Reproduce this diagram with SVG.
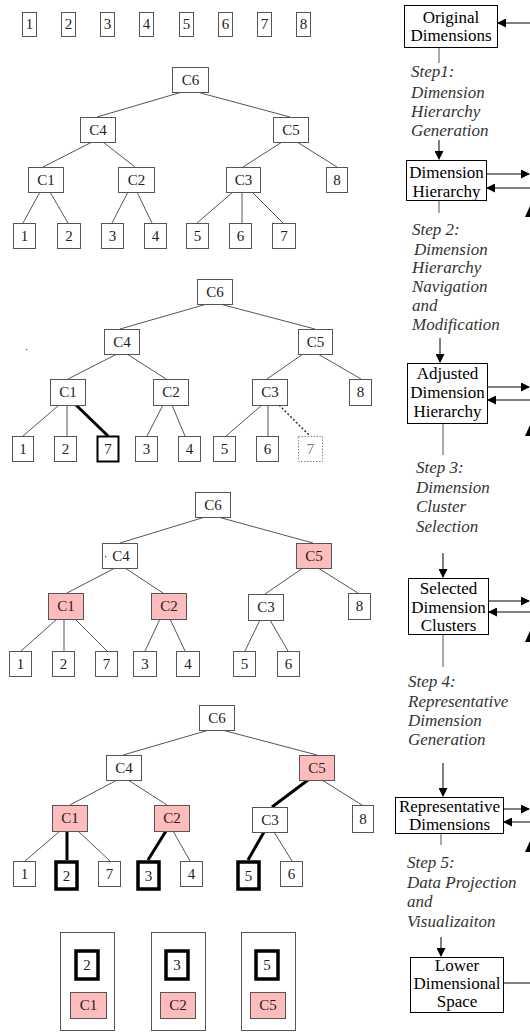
<svg xmlns="http://www.w3.org/2000/svg" width="530" height="1032" viewBox="0 0 530 1032" font-family="'Liberation Serif', 'Times New Roman', serif">
<style>
.n{fill:#fff;stroke:#555;stroke-width:1}
.p{fill:#ffbcbc;stroke:#555;stroke-width:1}
.tk{fill:#fff;stroke:#000;stroke-width:3.5}
.dt{fill:#fff;stroke:#888;stroke-width:1;stroke-dasharray:1.5 1.5}
.t{font-family:'Liberation Serif','Times New Roman',serif;font-size:15px;fill:#222;text-anchor:middle}
.e{stroke:#555;stroke-width:1;fill:none}
.eb{stroke:#000;stroke-width:3;fill:none}
.ed{stroke:#333;stroke-width:1.5;stroke-dasharray:2 2;fill:none}
.b{fill:#fff;stroke:#000;stroke-width:1}
.bt{font-family:'Liberation Serif','Times New Roman',serif;font-size:17px;fill:#000;text-anchor:middle}
.s{font-family:'Liberation Serif','Times New Roman',serif;font-size:17px;font-style:italic;fill:#333}
.f{stroke:#000;stroke-width:1;fill:none}
.fg{stroke:#555;stroke-width:1;fill:none}
.ah{fill:#000}
</style>
<defs>
<marker id="arr" markerWidth="9" markerHeight="9" refX="8" refY="4.5" orient="auto" markerUnits="userSpaceOnUse">
<path d="M0,0 L9,4.5 L0,9 Z" fill="#000"/>
</marker>
</defs>

<g id="top-row">
<g id="r1"><rect class="n" x="22.5" y="12.5" width="14" height="24"/><text class="t" x="29.5" y="29">1</text></g>
<g id="r2"><rect class="n" x="61.5" y="12.5" width="14" height="24"/><text class="t" x="68.5" y="29">2</text></g>
<g id="r3"><rect class="n" x="100.5" y="12.5" width="14" height="24"/><text class="t" x="107.5" y="29">3</text></g>
<g id="r4"><rect class="n" x="139.5" y="12.5" width="14" height="24"/><text class="t" x="146.5" y="29">4</text></g>
<g id="r5"><rect class="n" x="179.5" y="12.5" width="14" height="24"/><text class="t" x="186.5" y="29">5</text></g>
<g id="r6"><rect class="n" x="218.5" y="12.5" width="14" height="24"/><text class="t" x="225.5" y="29">6</text></g>
<g id="r7"><rect class="n" x="257.5" y="12.5" width="14" height="24"/><text class="t" x="264.5" y="29">7</text></g>
<g id="r8"><rect class="n" x="296.5" y="12.5" width="14" height="24"/><text class="t" x="303.5" y="29">8</text></g>
</g>

<g id="connectors">
<path class="e" d="M182,92L97,117M197,92L290,117M92,142L43,167M103,142L135,167M282,142L243,167M297,142L337,167M40,192L23,223M50,192L68,223M128,192L112,223M137,192L152,223M233,192L197,223M242,192L242,223M252,192L283,223"/>
<path class="e" d="M207,304L120,329M220,304L315,329M117,354L68,379M127,354L166,379M303,354L267,379M318,354L361,379M59,405L23,436M67,405L67,436M163,405L147,436M172,405L185,436M262,405L226,436M268,405L268,436"/>
<path class="eb" d="M76,405L108,436" stroke-width="2.5"/>
<path class="ed" d="M279,405L310,436"/>
<path class="e" d="M205,517L120,543M218,517L313,543M115,568L67,593M125,568L163,593M303,568L265,594M318,568L358,593M57,619L21,651M64,619L64,651M75,619L107,651M160,619L145,651M170,619L185,651M260,620L245,651M270,620L288,651"/>
<path class="e" d="M209,730L123,755M222,730L317,755M117,780L70,805M128,780L167,805M322,780L362,805M60,831L25,861M78,831L110,861M173,831L190,861M274,832L292,861"/>
<path class="eb" d="M308,780L272,807M67,831L67,860M166,831L148,860M264,832L248,860"/>
<line class="f" x1="530" y1="23" x2="498" y2="23" marker-end="url(#arr)"/>
<line class="fg" x1="439" y1="47" x2="439" y2="63"/>
<line class="f" x1="439" y1="140" x2="439" y2="159" marker-end="url(#arr)"/>
<line class="f" x1="486" y1="174" x2="529" y2="174" marker-end="url(#arr)"/>
<line class="f" x1="530" y1="188" x2="487" y2="188" marker-end="url(#arr)"/>
<polygon class="ah" points="525,217 530,206 530,217"/>
<line class="fg" x1="439" y1="200" x2="439" y2="213"/>
<line class="f" x1="440" y1="338" x2="440" y2="362" marker-end="url(#arr)"/>
<line class="f" x1="487" y1="387" x2="529" y2="387" marker-end="url(#arr)"/>
<line class="f" x1="530" y1="400" x2="488" y2="400" marker-end="url(#arr)"/>
<polygon class="ah" points="525,436 530,425 530,436"/>
<line class="fg" x1="443" y1="423" x2="443" y2="455"/>
<line class="f" x1="443" y1="553" x2="443" y2="577" marker-end="url(#arr)"/>
<line class="f" x1="488" y1="601" x2="529" y2="601" marker-end="url(#arr)"/>
<line class="f" x1="530" y1="612" x2="489" y2="612" marker-end="url(#arr)"/>
<polygon class="ah" points="525,642 530,631 530,642"/>
<line class="fg" x1="443" y1="634" x2="443" y2="667"/>
<line class="f" x1="443" y1="763" x2="443" y2="796" marker-end="url(#arr)"/>
<line class="f" x1="503" y1="809" x2="529" y2="809" marker-end="url(#arr)"/>
<line class="f" x1="530" y1="822" x2="504" y2="822" marker-end="url(#arr)"/>
<polygon class="ah" points="525,852 530,841 530,852"/>
<line class="fg" x1="441" y1="833" x2="441" y2="845"/>
<line class="f" x1="441" y1="937" x2="441" y2="956" marker-end="url(#arr)"/>
<line class="f" x1="503" y1="983" x2="530" y2="983"/>
</g>

<g id="tree1">
<g id="t1-c6"><rect class="n" x="172.5" y="67.5" width="36" height="25"/><text class="t" x="190.5" y="85">C6</text></g>
<g id="t1-c4"><rect class="n" x="80.5" y="117.5" width="35" height="25"/><text class="t" x="98" y="135">C4</text></g>
<g id="t1-c5"><rect class="n" x="273.5" y="117.5" width="35" height="25"/><text class="t" x="291" y="135">C5</text></g>
<g id="t1-c1"><rect class="n" x="28.5" y="167.5" width="35" height="25"/><text class="t" x="46" y="185">C1</text></g>
<g id="t1-c2"><rect class="n" x="118.5" y="167.5" width="36" height="25"/><text class="t" x="136.5" y="185">C2</text></g>
<g id="t1-c3"><rect class="n" x="226.5" y="167.5" width="34" height="25"/><text class="t" x="243.5" y="185">C3</text></g>
<g id="t1-8"><rect class="n" x="326.5" y="167.5" width="21" height="25"/><text class="t" x="337" y="185">8</text></g>
<g id="t1-1"><rect class="n" x="13.5" y="223.5" width="22" height="25"/><text class="t" x="24.5" y="241">1</text></g>
<g id="t1-2"><rect class="n" x="57.5" y="223.5" width="23" height="25"/><text class="t" x="69" y="241">2</text></g>
<g id="t1-3"><rect class="n" x="101.5" y="223.5" width="22" height="25"/><text class="t" x="112.5" y="241">3</text></g>
<g id="t1-4"><rect class="n" x="144.5" y="223.5" width="22" height="25"/><text class="t" x="155.5" y="241">4</text></g>
<g id="t1-5"><rect class="n" x="186.5" y="223.5" width="22" height="25"/><text class="t" x="197.5" y="241">5</text></g>
<g id="t1-6"><rect class="n" x="229.5" y="223.5" width="22" height="25"/><text class="t" x="240.5" y="241">6</text></g>
<g id="t1-7"><rect class="n" x="272.5" y="223.5" width="23" height="25"/><text class="t" x="284" y="241">7</text></g>
</g>

<g id="tree2">
<g id="t2-c6"><rect class="n" x="197.5" y="279.5" width="35" height="25"/><text class="t" x="215" y="297">C6</text></g>
<g id="t2-c4"><rect class="n" x="104.5" y="329.5" width="35" height="25"/><text class="t" x="122" y="347">C4</text></g>
<g id="t2-c5"><rect class="n" x="298.5" y="329.5" width="34" height="25"/><text class="t" x="315.5" y="347">C5</text></g>
<g id="t2-c1"><rect class="n" x="50.5" y="379.5" width="35" height="26"/><text class="t" x="68" y="397">C1</text></g>
<g id="t2-c2"><rect class="n" x="153.5" y="379.5" width="35" height="26"/><text class="t" x="171" y="397">C2</text></g>
<g id="t2-c3"><rect class="n" x="252.5" y="379.5" width="35" height="26"/><text class="t" x="270" y="397">C3</text></g>
<g id="t2-8"><rect class="n" x="349.5" y="379.5" width="22" height="26"/><text class="t" x="360.5" y="397">8</text></g>
<g id="t2-1"><rect class="n" x="12.5" y="436.5" width="21" height="25"/><text class="t" x="23" y="454">1</text></g>
<g id="t2-2"><rect class="n" x="54.5" y="436.5" width="22" height="25"/><text class="t" x="65.5" y="454">2</text></g>
<g id="t2-7"><rect class="n" x="97.5" y="436.5" width="21" height="25" style="stroke:#000;stroke-width:2"/><text class="t" x="108" y="454">7</text></g>
<g id="t2-3"><rect class="n" x="135.5" y="436.5" width="22" height="25"/><text class="t" x="146.5" y="454">3</text></g>
<g id="t2-4"><rect class="n" x="178.5" y="436.5" width="22" height="25"/><text class="t" x="189.5" y="454">4</text></g>
<g id="t2-5"><rect class="n" x="213.5" y="436.5" width="22" height="25"/><text class="t" x="224.5" y="454">5</text></g>
<g id="t2-6"><rect class="n" x="256.5" y="436.5" width="22" height="25"/><text class="t" x="267.5" y="454">6</text></g>
<g id="t2-7d"><rect class="dt" x="298.5" y="436.5" width="24" height="25"/><text class="t" x="310.5" y="454" style="fill:#777">7</text></g>
<rect x="26" y="349" width="1.2" height="1.2" fill="#555"/>
</g>

<g id="tree3">
<g id="t3-c6"><rect class="n" x="195.5" y="492.5" width="35" height="25"/><text class="t" x="213" y="510">C6</text></g>
<g id="t3-c4"><rect class="n" x="102.5" y="543.5" width="35" height="25"/><text class="t" x="121" y="561">C4</text><rect x="105" y="556" width="1.2" height="1.2" fill="#333"/></g>
<g id="t3-c5"><rect class="p" x="296.5" y="543.5" width="35" height="25"/><text class="t" x="314" y="561">C5</text></g>
<g id="t3-c1"><rect class="p" x="48.5" y="593.5" width="35" height="26"/><text class="t" x="66" y="611">C1</text></g>
<g id="t3-c2"><rect class="p" x="151.5" y="593.5" width="35" height="26"/><text class="t" x="169" y="611">C2</text></g>
<g id="t3-c3"><rect class="n" x="248.5" y="594.5" width="35" height="26"/><text class="t" x="266" y="612">C3</text></g>
<g id="t3-8"><rect class="n" x="348.5" y="593.5" width="22" height="26"/><text class="t" x="359.5" y="611">8</text></g>
<g id="t3-1"><rect class="n" x="9.5" y="651.5" width="22" height="25"/><text class="t" x="20.5" y="669">1</text></g>
<g id="t3-2"><rect class="n" x="52.5" y="651.5" width="22" height="25"/><text class="t" x="63.5" y="669">2</text></g>
<g id="t3-7"><rect class="n" x="95.5" y="651.5" width="22" height="25"/><text class="t" x="106.5" y="669">7</text></g>
<g id="t3-3"><rect class="n" x="133.5" y="651.5" width="23" height="25"/><text class="t" x="145" y="669">3</text></g>
<g id="t3-4"><rect class="n" x="176.5" y="651.5" width="23" height="25"/><text class="t" x="188" y="669">4</text></g>
<g id="t3-5"><rect class="n" x="233.5" y="651.5" width="22" height="25"/><text class="t" x="244.5" y="669">5</text></g>
<g id="t3-6"><rect class="n" x="277.5" y="651.5" width="22" height="25"/><text class="t" x="288.5" y="669">6</text></g>
</g>

<g id="tree4">
<g id="t4-c6"><rect class="n" x="199.5" y="705.5" width="35" height="25"/><text class="t" x="217" y="723">C6</text></g>
<g id="t4-c4"><rect class="n" x="106.5" y="755.5" width="35" height="25"/><text class="t" x="124" y="773">C4</text></g>
<g id="t4-c5"><rect class="p" x="299.5" y="755.5" width="35" height="25"/><text class="t" x="317" y="773">C5</text></g>
<g id="t4-c1"><rect class="p" x="52.5" y="805.5" width="35" height="26"/><text class="t" x="70" y="823">C1</text></g>
<g id="t4-c2"><rect class="p" x="154.5" y="805.5" width="35" height="26"/><text class="t" x="172" y="823">C2</text></g>
<g id="t4-c3"><rect class="n" x="252.5" y="807.5" width="35" height="25"/><text class="t" x="270" y="825">C3</text></g>
<g id="t4-8"><rect class="n" x="352.5" y="805.5" width="21" height="27"/><text class="t" x="363" y="824">8</text></g>
<g id="t4-1"><rect class="n" x="13.5" y="861.5" width="22" height="25"/><text class="t" x="24.5" y="879">1</text></g>
<g id="t4-2"><rect class="tk" x="56" y="862" width="21" height="27"/><text class="t" x="66.5" y="881">2</text></g>
<g id="t4-7"><rect class="n" x="98.5" y="861.5" width="22" height="25"/><text class="t" x="109.5" y="879">7</text></g>
<g id="t4-3"><rect class="tk" x="138" y="862" width="21" height="27"/><text class="t" x="148.5" y="881">3</text></g>
<g id="t4-4"><rect class="n" x="180.5" y="861.5" width="22" height="25"/><text class="t" x="191.5" y="879">4</text></g>
<g id="t4-5"><rect class="tk" x="238" y="862" width="21" height="27"/><text class="t" x="248.5" y="881">5</text></g>
<g id="t4-6"><rect class="n" x="280.5" y="861.5" width="22" height="25"/><text class="t" x="291.5" y="879">6</text></g>
</g>

<g id="representatives">
<g id="rep1"><rect class="n" x="60.5" y="932.5" width="54" height="98"/><rect class="tk" x="76" y="951" width="22" height="28"/><text class="t" x="87" y="970">2</text><rect class="p" x="70.5" y="992.5" width="36" height="26"/><text class="t" x="88.5" y="1010">C1</text></g>
<g id="rep2"><rect class="n" x="151.5" y="932.5" width="54" height="98"/><rect class="tk" x="166" y="951" width="22" height="28"/><text class="t" x="177" y="970">3</text><rect class="p" x="160.5" y="992.5" width="35" height="26"/><text class="t" x="178" y="1010">C2</text></g>
<g id="rep3"><rect class="n" x="241.5" y="932.5" width="54" height="98"/><rect class="tk" x="256" y="951" width="22" height="28"/><text class="t" x="267" y="970">5</text><rect class="p" x="250.5" y="992.5" width="35" height="26"/><text class="t" x="268" y="1010">C5</text></g>
</g>

<g id="pipeline">
<g id="box-original"><rect class="b" x="404.5" y="5.5" width="93" height="42"/><text class="bt" x="451" y="23">Original</text><text class="bt" x="451" y="41">Dimensions</text></g>
<g id="step1"><text class="s" x="411" y="77">Step1:</text><text class="s" x="411" y="98">Dimension</text><text class="s" x="411" y="117">Hierarchy</text><text class="s" x="411" y="136">Generation</text></g>
<g id="box-hierarchy"><rect class="b" x="406.5" y="160.5" width="80" height="40"/><text class="bt" x="446.5" y="178">Dimension</text><text class="bt" x="446.5" y="197">Hierarchy</text></g>
<g id="step2"><text class="s" x="412" y="235">Step 2:</text><text class="s" x="414" y="255">Dimension</text><text class="s" x="412" y="273">Hierarchy</text><text class="s" x="412" y="292">Navigation</text><text class="s" x="412" y="311">and</text><text class="s" x="412" y="330">Modification</text></g>
<g id="box-adjusted"><rect class="b" x="407.5" y="363.5" width="80" height="60"/><text class="bt" x="447.5" y="379">Adjusted</text><text class="bt" x="447.5" y="398">Dimension</text><text class="bt" x="447.5" y="417">Hierarchy</text></g>
<g id="step3"><text class="s" x="416" y="473">Step 3:</text><text class="s" x="416" y="493">Dimension</text><text class="s" x="416" y="512">Cluster</text><text class="s" x="416" y="532">Selection</text></g>
<g id="box-selected"><rect class="b" x="408.5" y="578.5" width="80" height="56"/><text class="bt" x="448.5" y="594">Selected</text><text class="bt" x="448.5" y="613">Dimension</text><text class="bt" x="448.5" y="631">Clusters</text></g>
<g id="step4"><text class="s" x="408" y="687">Step 4:</text><text class="s" x="408" y="707">Representative</text><text class="s" x="408" y="726">Dimension</text><text class="s" x="408" y="745">Generation</text></g>
<g id="box-representative"><rect class="b" x="395.5" y="797.5" width="108" height="36"/><text class="bt" x="449.5" y="812">Representative</text><text class="bt" x="449.5" y="830">Dimensions</text></g>
<g id="step5"><text class="s" x="407" y="868">Step 5:</text><text class="s" x="407" y="888">Data Projection</text><text class="s" x="407" y="907">and</text><text class="s" x="407" y="927">Visualizaiton</text></g>
<g id="box-lower"><rect class="b" x="410.5" y="957.5" width="93" height="55"/><text class="bt" x="457" y="971">Lower</text><text class="bt" x="457" y="989">Dimensional</text><text class="bt" x="457" y="1007">Space</text></g>
</g>
</svg>
